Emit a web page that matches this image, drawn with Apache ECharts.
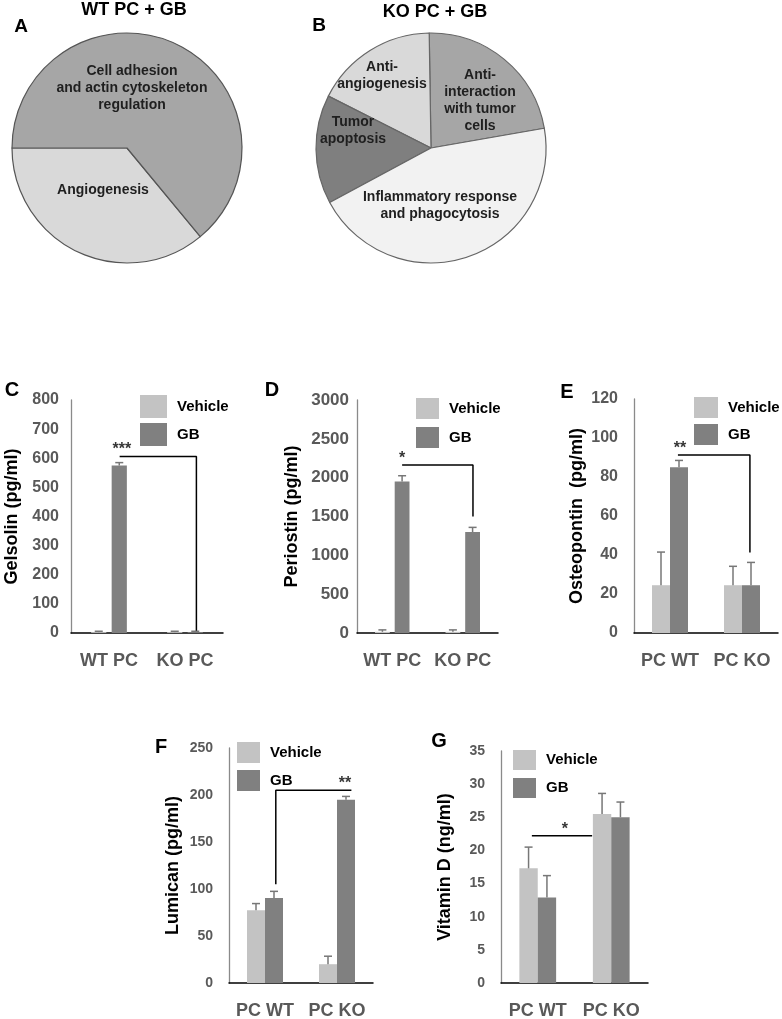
<!DOCTYPE html>
<html>
<head>
<meta charset="utf-8">
<script src="https://cdn.jsdelivr.net/npm/echarts@6/dist/echarts.min.js"></script>
<style>
html,body{margin:0;padding:0;background:#fff;}
#chart{width:782px;height:1019px;}
</style>
</head>
<body>
<div id="chart"></div>
<script>
// ---------------- DATA ----------------
const pieATitle = 'WT PC + GB';
const pieANames = ['Angiogenesis', 'Cell adhesion\nand actin cytoskeleton\nregulation'];
const pieAValues = [36, 64];

const pieBTitle = 'KO PC + GB';
const pieBNames = ['Anti-\ninteraction\nwith tumor\ncells', 'Anti-\nangiogenesis', 'Tumor\napoptosis', 'Inflammatory response\nand phagocytosis'];
const pieBValues = [22.5, 17.3, 15.3, 44.9];

const seriesNames = ['Vehicle', 'GB'];

const gelsolinCats = ['WT PC', 'KO PC'];
const gelsolinVehicle = [3, 3];
const gelsolinVehicleErr = [3, 3];
const gelsolinGB = [575, 3];
const gelsolinGBErr = [10, 3];
const gelsolinAxis = [0, 800, 100];
const gelsolinBracket = [[0.14, 606], [1.15, 606], [1.15, 8]];
const gelsolinSig = [[0.17, 606, '***']];

const periostinCats = ['WT PC', 'KO PC'];
const periostinVehicle = [15, 15];
const periostinVehicleErr = [25, 25];
const periostinGB = [1950, 1300];
const periostinGBErr = [75, 60];
const periostinAxis = [0, 3000, 500];
const periostinBracket = [[0.14, 2164], [1.145, 2164], [1.145, 1500]];
const periostinSig = [[0.14, 2164, '*']];

const osteopontinCats = ['PC WT', 'PC KO'];
const osteopontinVehicle = [24.5, 24.5];
const osteopontinVehicleErr = [17, 9.7];
const osteopontinGB = [85, 24.5];
const osteopontinGBErr = [3.5, 11.7];
const osteopontinAxis = [0, 120, 20];
const osteopontinBracket = [[0.11, 91.3], [1.11, 91.3], [1.11, 41.3]];
const osteopontinSig = [[0.14, 91.3, '**']];

const lumicanCats = ['PC WT', 'PC KO'];
const lumicanVehicle = [77.5, 20];
const lumicanVehicleErr = [7, 8.5];
const lumicanGB = [90.5, 195];
const lumicanGBErr = [7, 3.5];
const lumicanAxis = [0, 250, 50];
const lumicanBracket = [[0.15, 105], [0.15, 205], [1.2, 205]];
const lumicanSig = [[1.11, 205, '**']];

const vitaminDCats = ['PC WT', 'PC KO'];
const vitaminDVehicle = [17.3, 25.5];
const vitaminDVehicleErr = [3.2, 3.1];
const vitaminDGB = [12.9, 25.0];
const vitaminDGBErr = [3.3, 2.3];
const vitaminDAxis = [0, 35, 5];
const vitaminDBracket = [[-0.08, 22.2], [0.74, 22.2]];
const vitaminDSig = [[0.37, 22.2, '*']];

// ---------------- STYLE / LAYOUT ----------------
const FONT = '"Liberation Sans", Arial, Helvetica, sans-serif';
const VEH_COLOR = '#c3c3c3';
const GB_COLOR = '#808080';
const ERR_COLOR = '#777777';
const pieAColors = ['#d9d9d9', '#a6a6a6'];
const pieBColors = ['#a6a6a6', '#d9d9d9', '#7f7f7f', '#f2f2f2'];

const panels = [
  { cats: gelsolinCats, veh: gelsolinVehicle, vehErr: gelsolinVehicleErr, gb: gelsolinGB, gbErr: gelsolinGBErr,
    axis: gelsolinAxis, bracket: gelsolinBracket, sig: gelsolinSig, title: 'Gelsolin (pg/ml)',
    grid: { left: 71, top: 400, width: 152, height: 233 }, barW: 0.20, gap: 0.35, tickFont: 16, tickMargin: 12, nameGap: 50,
    legend: { left: 140, top: 395, w: 27, h: 23, gap: 5 } },
  { cats: periostinCats, veh: periostinVehicle, vehErr: periostinVehicleErr, gb: periostinGB, gbErr: periostinGBErr,
    axis: periostinAxis, bracket: periostinBracket, sig: periostinSig, title: 'Periostin (pg/ml)',
    grid: { left: 357, top: 400, width: 141, height: 233 }, barW: 0.21, gap: 0.33, tickFont: 17, tickMargin: 8, nameGap: 56,
    legend: { left: 416, top: 398, w: 23, h: 21, gap: 8 } },
  { cats: osteopontinCats, veh: osteopontinVehicle, vehErr: osteopontinVehicleErr, gb: osteopontinGB, gbErr: osteopontinGBErr,
    axis: osteopontinAxis, bracket: osteopontinBracket, sig: osteopontinSig, title: 'Osteopontin  (pg/ml)',
    grid: { left: 634, top: 399, width: 144, height: 234 }, barW: 0.25, gap: 0, tickFont: 16, tickMargin: 16, nameGap: 48,
    legend: { left: 694, top: 397, w: 24, h: 21, gap: 6 } },
  { cats: lumicanCats, veh: lumicanVehicle, vehErr: lumicanVehicleErr, gb: lumicanGB, gbErr: lumicanGBErr,
    axis: lumicanAxis, bracket: lumicanBracket, sig: lumicanSig, title: 'Lumican (pg/ml)',
    grid: { left: 229, top: 748, width: 144, height: 235 }, barW: 0.25, gap: 0, tickFont: 14, tickMargin: 16, nameGap: 47,
    legend: { left: 237, top: 742, w: 23, h: 21, gap: 7 } },
  { cats: vitaminDCats, veh: vitaminDVehicle, vehErr: vitaminDVehicleErr, gb: vitaminDGB, gbErr: vitaminDGBErr,
    axis: vitaminDAxis, bracket: vitaminDBracket, sig: vitaminDSig, title: 'Vitamin D (ng/ml)',
    grid: { left: 501, top: 751, width: 147, height: 232 }, barW: 0.25, gap: 0, tickFont: 14, tickMargin: 16, nameGap: 47,
    legend: { left: 513, top: 750, w: 23, h: 20, gap: 8 } }
];

const letters = [
  ['A', 21, 26.5, 19], ['B', 319, 26, 19], ['C', 12, 390, 20], ['D', 272, 390.5, 20],
  ['E', 567, 392, 20], ['F', 161, 747, 20], ['G', 439, 741, 20]
];
const pieATitlePos = [134, 10];
const pieBTitlePos = [435, 12];
const pieALabelPos = [[103, 190], [132, 88]];
const pieBLabelPos = [[480, 101], [382, 75.5], [353, 130.5], [440, 205.5]];

// ---------------- BUILD ----------------
const grids = [], xAxes = [], yAxes = [], series = [], legends = [], graphics = [];

function errRender(off) {
  return function (params, api) {
    const ci = api.value(0), v = api.value(1), e = api.value(2);
    const band = api.size([1, 0])[0];
    const p0 = api.coord([ci, v]);
    const p1 = api.coord([ci, v + e]);
    const x = p0[0] + off * band;
    const st = { stroke: ERR_COLOR, lineWidth: 1.5 };
    return {
      type: 'group',
      children: [
        { type: 'line', shape: { x1: x, y1: p0[1], x2: x, y2: p1[1] }, style: st },
        { type: 'line', shape: { x1: x - 4, y1: p1[1], x2: x + 4, y2: p1[1] }, style: st }
      ]
    };
  };
}

panels.forEach((p, k) => {
  grids.push(Object.assign({ outerBoundsMode: 'none', containLabel: false }, p.grid));
  xAxes.push({
    type: 'category', gridIndex: k, data: p.cats,
    axisLine: { onZero: false, lineStyle: { color: '#000', width: 1.5 } },
    axisTick: { show: false },
    axisLabel: { interval: 0, color: '#595959', fontWeight: 'bold', fontSize: 18, fontFamily: FONT, margin: 19 }
  });
  xAxes.push({ type: 'value', gridIndex: k, min: -0.5, max: 1.5, show: false });
  yAxes.push({
    type: 'value', gridIndex: k, min: p.axis[0], max: p.axis[1], interval: p.axis[2],
    axisLine: { show: true, onZero: false, lineStyle: { color: '#8a8a8a', width: 1.3 } },
    axisTick: { show: false },
    splitLine: { show: false },
    axisLabel: { color: '#595959', fontWeight: 'bold', fontSize: p.tickFont, fontFamily: FONT, margin: p.tickMargin,
                 formatter: v => String(v) },
    name: p.title, nameLocation: 'middle', nameRotate: 90, nameGap: p.nameGap,
    nameTextStyle: { color: '#000', fontWeight: 'bold', fontSize: 18, fontFamily: FONT }
  });
  const off = p.barW * (1 + p.gap) / 2;
  series.push({
    type: 'bar', name: seriesNames[0], xAxisIndex: 2 * k, yAxisIndex: k, data: p.veh,
    barWidth: (p.barW * 100) + '%', barGap: (p.gap * 100) + '%',
    itemStyle: { color: VEH_COLOR }, silent: true
  });
  series.push({
    type: 'bar', name: seriesNames[1], xAxisIndex: 2 * k, yAxisIndex: k, data: p.gb,
    barWidth: (p.barW * 100) + '%', barGap: (p.gap * 100) + '%',
    itemStyle: { color: GB_COLOR }, silent: true
  });
  series.push({
    type: 'custom', xAxisIndex: 2 * k, yAxisIndex: k, z: 5, silent: true,
    data: p.veh.map((v, i) => [i, v, p.vehErr[i]]),
    encode: { x: 0, y: 1 },
    renderItem: errRender(-off)
  });
  series.push({
    type: 'custom', xAxisIndex: 2 * k, yAxisIndex: k, z: 5, silent: true,
    data: p.gb.map((v, i) => [i, v, p.gbErr[i]]),
    encode: { x: 0, y: 1 },
    renderItem: errRender(off)
  });
  series.push({
    type: 'line', xAxisIndex: 2 * k + 1, yAxisIndex: k, data: p.bracket,
    symbol: 'none', lineStyle: { color: '#000', width: 1.5 }, silent: true, z: 6
  });
  series.push({
    type: 'scatter', xAxisIndex: 2 * k + 1, yAxisIndex: k, silent: true, z: 7,
    data: p.sig.map(s => ({ value: [s[0], s[1]], label: { formatter: s[2] } })),
    symbolSize: 1, itemStyle: { color: 'rgba(0,0,0,0)' },
    label: { show: true, position: 'top', distance: -2, color: '#000', fontWeight: 'bold', fontSize: 16, fontFamily: FONT }
  });
  legends.push({
    data: seriesNames, orient: 'vertical', left: p.legend.left, top: p.legend.top, padding: 0,
    itemWidth: p.legend.w, itemHeight: p.legend.h, itemGap: p.legend.gap, icon: 'rect',
    selectedMode: false,
    textStyle: { color: '#000', fontWeight: 'bold', fontSize: 15, fontFamily: FONT, padding: [0, 0, 0, 5] }
  });
});

// Pies
series.push({
  type: 'pie', center: [127, 148], radius: 115, startAngle: 180, clockwise: false, silent: true,
  data: pieANames.map((n, i) => ({ name: n, value: pieAValues[i], itemStyle: { color: pieAColors[i] } })),
  label: { show: false }, labelLine: { show: false },
  itemStyle: { borderColor: '#555', borderWidth: 1.2 }, emphasis: { disabled: true }
});
series.push({
  type: 'pie', center: [431, 148], radius: 115, startAngle: 9.9, clockwise: false, silent: true,
  data: pieBNames.map((n, i) => ({ name: n, value: pieBValues[i], itemStyle: { color: pieBColors[i] } })),
  label: { show: false }, labelLine: { show: false },
  itemStyle: { borderColor: '#666', borderWidth: 1.2 }, emphasis: { disabled: true }
});

function txt(text, x, y, size, color, lh) {
  return {
    type: 'text', x: x, y: y, silent: true, z: 100,
    style: {
      text: text, fill: color, fontSize: size, fontWeight: 'bold', fontFamily: FONT,
      align: 'center', verticalAlign: 'middle', textAlign: 'center', textVerticalAlign: 'middle',
      lineHeight: lh || size
    }
  };
}
letters.forEach(l => graphics.push(txt(l[0], l[1], l[2], l[3], '#000')));
graphics.push(txt(pieATitle, pieATitlePos[0], pieATitlePos[1], 18, '#000'));
graphics.push(txt(pieBTitle, pieBTitlePos[0], pieBTitlePos[1], 18, '#000'));
pieANames.forEach((n, i) => graphics.push(txt(n, pieALabelPos[i][0], pieALabelPos[i][1], 14, '#1f1f1f', 17)));
pieBNames.forEach((n, i) => graphics.push(txt(n, pieBLabelPos[i][0], pieBLabelPos[i][1], 14, '#1f1f1f', 17)));

const chart = echarts.init(document.getElementById('chart'), null, { renderer: 'canvas' });
chart.setOption({
  backgroundColor: '#ffffff',
  animation: false,
  textStyle: { fontFamily: FONT },
  grid: grids,
  xAxis: xAxes,
  yAxis: yAxes,
  legend: legends,
  series: series,
  graphic: graphics
});
</script>
</body>
</html>
